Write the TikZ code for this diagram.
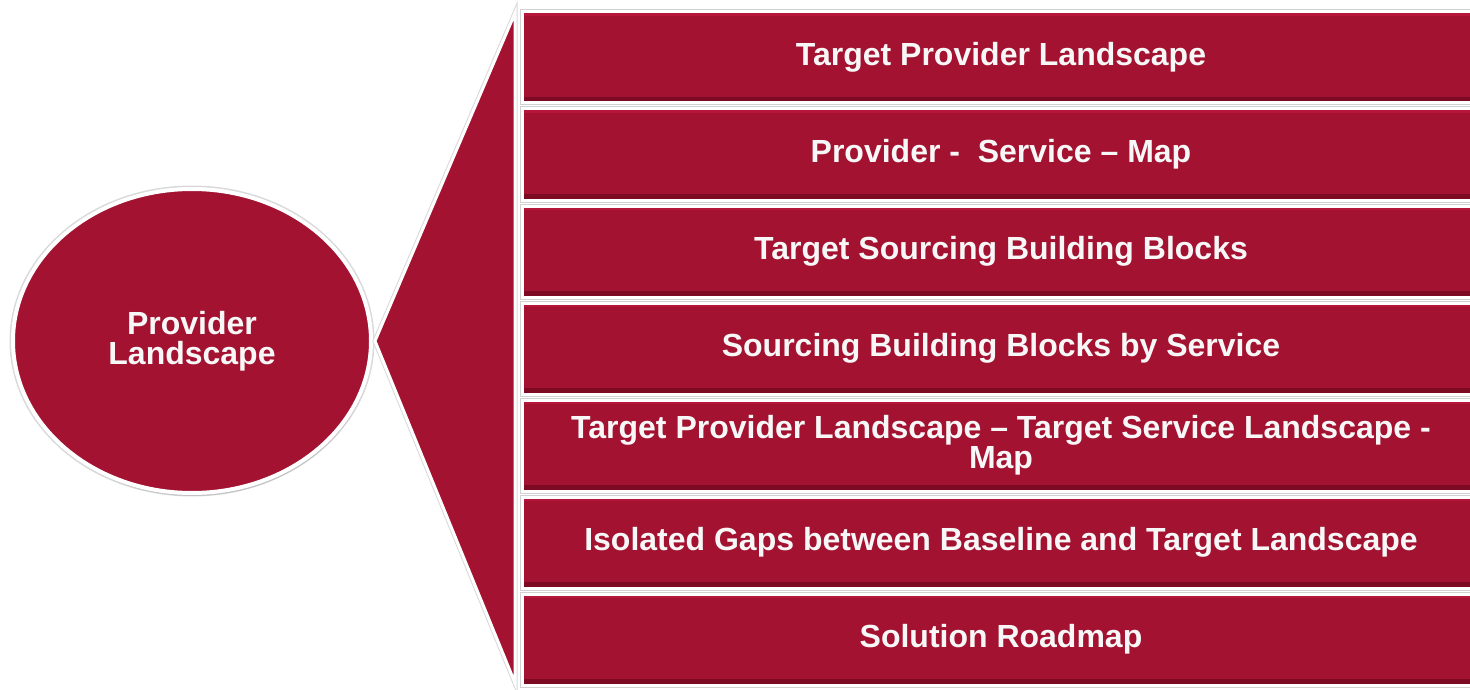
\documentclass[tikz,border=0pt]{standalone}
\usepackage{fontspec}
\setmainfont{Liberation Sans}
\usepackage{xcolor}
\usepackage{tikz}
\usetikzlibrary{shapes.geometric, shadows, positioning}

\definecolor{crimson}{HTML}{A31230}
\definecolor{crimsondk}{HTML}{7C0A22}
\definecolor{crimsonlt}{HTML}{B5163A}
\definecolor{softwhite}{HTML}{F7F7F7}

\begin{document}
\begin{tikzpicture}[
    x=1pt, y=-1pt,
    panel/.style={rectangle, draw=white, line width=3pt, fill=crimson, outer sep=0pt,
        minimum width=958pt, minimum height=91pt, inner sep=0pt, align=center,
        text=softwhite, font=\bfseries\fontsize{32}{30}\selectfont,
        preaction={draw=black!18, line width=5pt},
        path picture={
            \fill[crimsondk] (path picture bounding box.south west) rectangle
                ([yshift=6pt]path picture bounding box.south east);
            \fill[crimsonlt] (path picture bounding box.north west) rectangle
                ([yshift=-4pt]path picture bounding box.north east);}},
    hub/.style={ellipse, draw=white, line width=4pt, fill=crimson, inner sep=0pt,
        minimum width=358pt, minimum height=304pt, align=center,
        text=softwhite, font=\bfseries\fontsize{32}{30}\selectfont,
        preaction={draw=black!15, line width=7pt},
        drop shadow={opacity=0.25, shadow xshift=1pt, shadow yshift=-3pt}},
    fan/.style={draw=white, line width=3pt, fill=crimson, line join=miter,
        preaction={draw=black!15, line width=5pt}}
]
    \useasboundingbox (0,0) rectangle (1470,690);

    % Topics on the right
    \node[panel] (target) at (1001,57.5) {Target Provider Landscape};
    \node[panel, below=6pt of target] (servicemap) {Provider -\ \ Service – Map};
    \node[panel, below=6pt of servicemap] (blocks) {Target Sourcing Building Blocks};
    \node[panel, below=6pt of blocks] (byservice) {Sourcing Building Blocks by Service};
    \node[panel, below=6pt of byservice] (landmap) {Target Provider Landscape – Target Service Landscape -\\Map};
    \node[panel, below=6pt of landmap] (gaps) {Isolated Gaps between Baseline and Target Landscape};
    \node[panel, below=6pt of gaps] (roadmap) {Solution Roadmap};

    % Central topic
    \node[hub] (hub) at (192,341) {Provider\\Landscape};

    % Fan from the hub to the topic column
    \filldraw[fan] ([xshift=2pt]hub.east) -- ([xshift=-7pt,yshift=-1pt]target.north west)
        -- ([xshift=-7pt,yshift=2pt]roadmap.south west) -- cycle;
\end{tikzpicture}
\end{document}
